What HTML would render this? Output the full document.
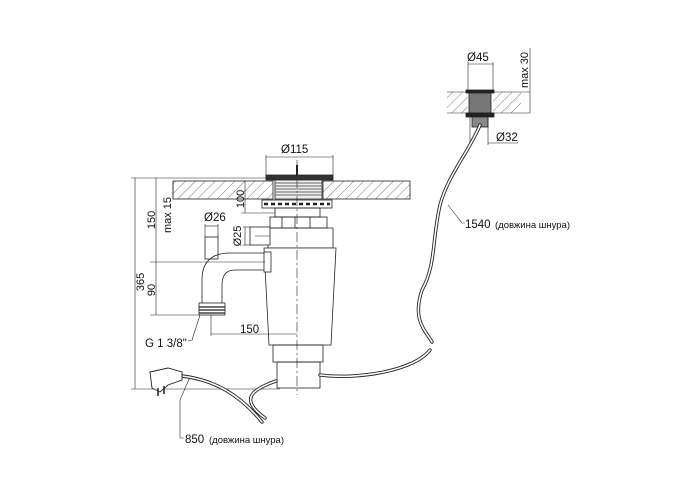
<!DOCTYPE html>
<html><head><meta charset="utf-8"><style>
html,body{margin:0;padding:0;background:#fff}
svg{display:block}
text{font-family:"Liberation Sans","DejaVu Sans",sans-serif;fill:#111}
</style></head><body>
<svg width="700" height="500" viewBox="0 0 700 500" xmlns="http://www.w3.org/2000/svg">
<defs>
<pattern id="h" width="7" height="7" patternUnits="userSpaceOnUse" patternTransform="rotate(45)">
<line x1="0" y1="0" x2="0" y2="7" stroke="#555" stroke-width="0.8"/>
</pattern>
</defs>
<g stroke="#222" fill="none" stroke-width="0.8">
<rect x="173" y="181" width="100" height="18" fill="url(#h)"/>
<rect x="323" y="181" width="87" height="18" fill="url(#h)"/>
<line x1="297" y1="165" x2="297" y2="176" stroke-width="2"/>
<rect x="266" y="175" width="67" height="5" fill="#333"/>
<rect x="275" y="180" width="47" height="19" fill="#eee"/>
<g stroke="#666" stroke-width="1">
<line x1="275" y1="183" x2="322" y2="183"/><line x1="275" y1="186" x2="322" y2="186"/><line x1="275" y1="189" x2="322" y2="189"/><line x1="275" y1="192" x2="322" y2="192"/><line x1="275" y1="195" x2="322" y2="195"/>
</g>
<rect x="262" y="200" width="70" height="8" fill="#fff"/>
<line x1="264" y1="204" x2="330" y2="204" stroke-dasharray="4,3" stroke-width="2.5"/>
<rect x="275" y="208" width="45" height="9"/>
<rect x="270" y="217" width="57" height="11"/>
<line x1="282" y1="217" x2="282" y2="228"/><line x1="295" y1="217" x2="295" y2="228"/><line x1="310" y1="217" x2="310" y2="228"/>
<path d="M268 228 L333 228 L333 248 L268 248 Z"/>
<path d="M264 248 L336 248 L331 345 L269 345 Z" fill="#fff"/>
<rect x="273" y="345" width="50" height="17"/>
<rect x="277" y="362" width="43" height="26"/>
<line x1="297" y1="160" x2="297" y2="395" stroke-dasharray="10,3,2,3" stroke-width="0.6"/>
<rect x="250" y="227" width="20" height="18" fill="#fff"/>
<line x1="255" y1="236" x2="270" y2="236" stroke-width="0.5"/>
<rect x="205" y="237" width="13" height="22" fill="#fff"/>
<path d="M268 253 L230 253 Q203 253 202 278 L202 305 M268 270 L235 270 Q222 270 222 285 L222 305" />
<rect x="264" y="252" width="7" height="20" fill="#fff"/>
<rect x="199" y="303" width="26" height="12" fill="#fff"/>
<g stroke-width="1.2"><line x1="199" y1="307" x2="225" y2="307"/><line x1="199" y1="310" x2="225" y2="310"/><line x1="199" y1="313" x2="225" y2="313"/></g>
<g stroke-width="0.6">
<line x1="135" y1="178" x2="135" y2="389"/><line x1="131" y1="178" x2="275" y2="178"/><line x1="131" y1="389" x2="280" y2="389"/>
<line x1="156" y1="178" x2="156" y2="315"/><line x1="150" y1="262" x2="265" y2="262"/><line x1="150" y1="315" x2="200" y2="315"/>
<line x1="173" y1="182" x2="173" y2="199"/>
<line x1="245" y1="181" x2="245" y2="213"/><line x1="241" y1="213" x2="275" y2="213"/>
<line x1="243" y1="227" x2="250" y2="227"/><line x1="243" y1="245" x2="250" y2="245"/><line x1="245" y1="227" x2="245" y2="245"/>
<line x1="205" y1="224" x2="205" y2="237"/><line x1="218" y1="224" x2="218" y2="237"/><line x1="205" y1="226" x2="218" y2="226"/>
<line x1="266" y1="155" x2="266" y2="175"/><line x1="333" y1="155" x2="333" y2="175"/><line x1="266" y1="157" x2="333" y2="157"/>
<line x1="211" y1="315" x2="211" y2="336"/><line x1="211" y1="334" x2="297" y2="334"/>
<path d="M200 315 L192 340 L188 341"/>
</g>
<rect x="447" y="92" width="21" height="21" fill="url(#h)" stroke="none"/>
<rect x="493" y="92" width="28" height="21" fill="url(#h)" stroke="none"/>
<line x1="447" y1="92" x2="530" y2="92" stroke-width="0.6"/><line x1="447" y1="113" x2="530" y2="113" stroke-width="0.6"/>
<rect x="466" y="90" width="28" height="3" fill="#222"/>
<rect x="469" y="93" width="22" height="20" fill="#777"/>
<rect x="466" y="113" width="28" height="4" fill="#222"/>
<rect x="472" y="117" width="16" height="10" fill="#888"/>
<g stroke-width="0.6">
<line x1="468" y1="62" x2="468" y2="90"/><line x1="493" y1="62" x2="493" y2="90"/><line x1="468" y1="64" x2="493" y2="64"/>
<line x1="470" y1="117" x2="470" y2="145"/><line x1="488" y1="117" x2="488" y2="145"/><line x1="488" y1="143" x2="518" y2="143"/>
<line x1="530" y1="48" x2="530" y2="113"/>
<path d="M448 205 L462 223 L465 223"/>
<path d="M190 377 L180 400 L180 438 L184 438"/>
</g>
</g>
<g fill="none" stroke-linecap="round">
<path d="M480 125 C470 150 448 175 440 205 C432 240 436 265 422 290 C412 320 425 330 432 342" stroke="#222" stroke-width="3.4"/>
<path d="M480 125 C470 150 448 175 440 205 C432 240 436 265 422 290 C412 320 425 330 432 342" stroke="#fff" stroke-width="1.6"/>
<path d="M430 350 C415 370 360 380 320 375" stroke="#222" stroke-width="3.4"/>
<path d="M430 350 C415 370 360 380 320 375" stroke="#fff" stroke-width="1.6"/>
<path d="M276 381 C250 390 240 400 265 418" stroke="#222" stroke-width="3.4"/>
<path d="M276 381 C250 390 240 400 265 418" stroke="#fff" stroke-width="1.6"/>
<path d="M182 376 C215 380 240 395 262 422" stroke="#222" stroke-width="3.4"/>
<path d="M182 376 C215 380 240 395 262 422" stroke="#fff" stroke-width="1.6"/>
</g>
<path d="M150 372 L168 368 L182 372 L182 380 L168 385 L160 392 L152 388 Z" fill="#fff" stroke="#222" stroke-width="0.9"/>
<line x1="158" y1="388" x2="158" y2="396" stroke="#222" stroke-width="1.5"/>
<line x1="164" y1="386" x2="164" y2="394" stroke="#222" stroke-width="1.5"/>
<g font-size="11.5">
<text x="281" y="153">Ø115</text>
<text x="204" y="221">Ø26</text>
<text x="240" y="333">150</text>
<text x="145" y="347">G 1 3/8"</text>
<text x="467" y="61">Ø45</text>
<text x="496" y="141">Ø32</text>
<text x="465" y="228">1540</text>
<text x="185" y="443">850</text>
</g>
<g text-anchor="middle" font-size="11">
<text transform="translate(144,282) rotate(-90)">365</text>
<text transform="translate(155,220) rotate(-90)">150</text>
<text transform="translate(155,290) rotate(-90)">90</text>
<text transform="translate(171,215) rotate(-90)">max 15</text>
<text transform="translate(244,199) rotate(-90)">100</text>
<text transform="translate(241,236) rotate(-90)">Ø25</text>
<text transform="translate(528,70) rotate(-90)">max 30</text>
</g>
<g font-size="9.5">
<text x="495" y="228">(довжина шнура)</text>
<text x="209" y="443">(довжина шнура)</text>
</g>
</svg>
</body></html>
